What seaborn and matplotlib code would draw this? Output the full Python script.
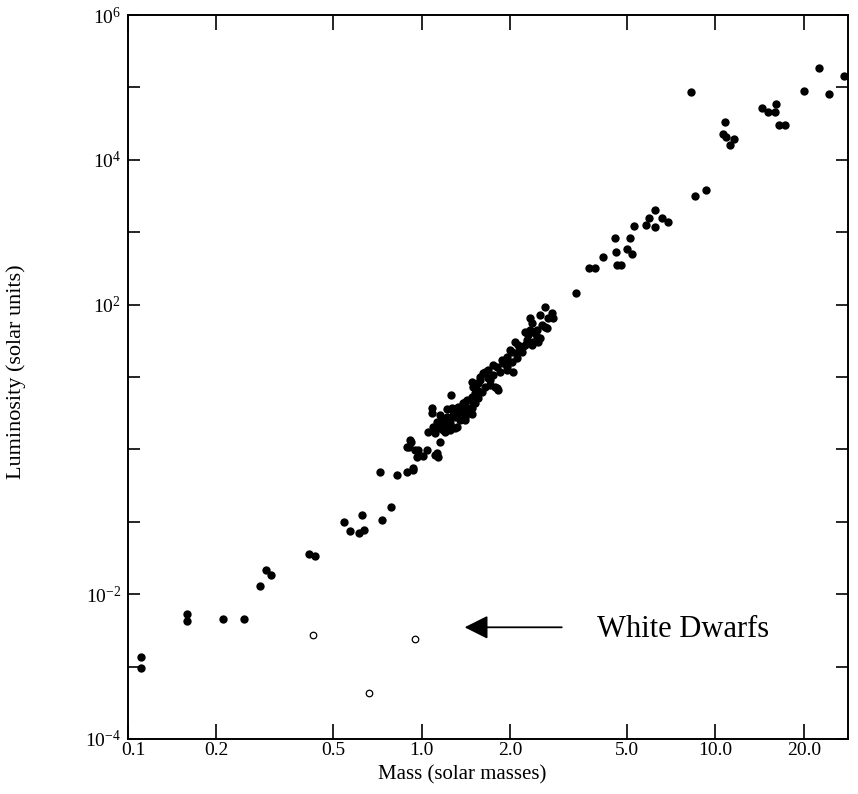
import numpy as np
import seaborn as sns
from matplotlib import pyplot as plt
from matplotlib import transforms
from matplotlib.ticker import FixedLocator, FixedFormatter, NullLocator

# log10 values
ms_log_mass = [
    -0.957, -0.957, -0.798, -0.798, -0.676, -0.606, -0.551, -0.531, -0.513,
    -0.383, -0.362, -0.264, -0.244, -0.213, -0.195, -0.204, -0.134, -0.105,
    -0.142, -0.085, -0.049, -0.031, -0.044, -0.036, -0.017, 0.005, -0.012,
    0.051, 0.062, -0.040, -0.051, -0.023, 0.017, 0.045, 0.055, -0.030,
    0.099, 0.034, 0.036, 0.022, 0.039, 0.051, 0.068, 0.085, 0.108,
    0.096, 0.119, 0.074, 0.096, 0.045, 0.108, 0.125, 0.142, 0.153,
    0.147, 0.159, 0.170, 0.181, 0.193, 0.181, 0.170, 0.199, 0.210,
    0.227, 0.216, 0.233, 0.255, 0.255, 0.278, 0.289, 0.176, 0.187,
    0.204, 0.170, 0.187, 0.261, 0.233, 0.244, 0.272, 0.289, 0.312,
    0.306, 0.318, 0.335, 0.369, 0.369, 0.386, 0.397, 0.420, 0.420,
    0.443, 0.448, 0.358, 0.289, 0.403, 0.375, 0.409, 0.426, 0.352,
    0.363, 0.392, 0.403, 0.380, 0.375, 0.329, 0.340, 0.301, 0.323,
    0.340, 0.306, 0.216, 0.199, 0.193, 0.250, 0.062, 0.083, 0.130,
    0.124, 0.086, 0.137, 0.055,
    0.052, 0.073, 0.090, 0.113, 0.137, 0.158, 0.175, 0.062, 0.103,
    0.147, 0.079, 0.113, 0.147, 0.171, 0.226, 0.267, 0.284, 0.328,
    0.352, 0.393, 0.430, 0.243,
    0.524, 0.570, 0.590, 0.616, 0.658, 0.662, 0.664, 0.679, 0.709,
    0.698, 0.715, 0.724, 0.763, 0.774, 0.794, 0.794, 0.817, 0.840,
    0.932, 0.967, 0.917, 1.034, 1.027, 1.038, 1.064, 1.050, 1.160,
    1.180, 1.206, 1.203, 1.218, 1.237, 1.303, 1.352, 1.388, 1.437,
]
ms_log_lum = [
    -2.872, -3.015, -2.278, -2.374, -2.338, -2.338, -1.883, -1.670, -1.731,
    -1.445, -1.468, -1.007, -1.131, -1.151, -1.109, -0.902, -0.975, -0.791,
    -0.316, -0.349, -0.312, -0.285, 0.037, 0.106, -0.101, -0.091, -0.008,
    -0.054, 0.106, 0.130, 0.037, -0.008, -0.008, -0.077, -0.101, -0.257,
    0.751, 0.568, 0.499, 0.244, 0.314, 0.383, 0.406, 0.452, 0.475,
    0.360, 0.314, 0.268, 0.268, 0.222, 0.544, 0.590, 0.637, 0.682,
    0.452, 0.499, 0.568, 0.637, 0.706, 0.775, 0.935, 0.959, 1.051,
    1.097, 0.866, 0.890, 0.844, 1.142, 1.189, 1.097, 0.866, 0.820,
    0.797, 0.728, 0.728, 0.820, 0.959, 1.166, 1.235, 1.142, 1.073,
    1.349, 1.488, 1.418, 1.811, 1.649, 1.604, 1.488, 1.971, 1.695,
    1.880, 1.811, 1.511, 1.280, 1.856, 1.742, 1.718, 1.673, 1.626,
    1.580, 1.557, 1.535, 1.488, 1.442, 1.442, 1.396, 1.373, 1.258,
    1.349, 1.211, 1.073, 1.004, 0.913, 0.866, 0.337, 0.323, 0.406,
    0.503, 0.558, 0.544, 0.296,
    0.337, 0.378, 0.406, 0.448, 0.517, 0.572, 0.655, 0.475, 0.572,
    0.655, 0.240, 0.296, 0.406, 0.489, 0.986, 1.069, 1.207, 1.345,
    1.442, 1.649, 1.815, 1.028,
    2.156, 2.510, 2.510, 2.657, 2.920, 2.722, 2.547, 2.547, 2.920,
    2.764, 2.699, 3.081, 3.095, 3.192, 3.307, 3.068, 3.192, 3.145,
    3.500, 3.579, 4.932, 4.526, 4.356, 4.319, 4.287, 4.204, 4.715,
    4.664, 4.771, 4.664, 4.477, 4.477, 4.946, 5.268, 4.909, 5.153,
]
wd_log_mass = [-0.370, -0.022, -0.180]
wd_log_lum = [-2.568, -2.623, -3.369]

x_ticks = [0.1, 0.2, 0.5, 1.0, 2.0, 5.0, 10.0, 20.0]
x_labels = ["0.1", "0.2", "0.5", "1.0", "2.0", "5.0", "10.0", "20.0"]
y_ticks = [1e-4, 1e-3, 1e-2, 1e-1, 1e0, 1e1, 1e2, 1e3, 1e4, 1e5, 1e6]
y_labels = [r"$10^{-4}$", "", r"$10^{-2}$", "", "", "", r"$10^{2}$", "",
            r"$10^{4}$", "", r"$10^{6}$"]

sns.set_style("ticks")
plt.rcParams["font.family"] = ["Liberation Serif", "DejaVu Serif"]
plt.rcParams["mathtext.fontset"] = "custom"
plt.rcParams["mathtext.rm"] = "Liberation Serif"
plt.rcParams["mathtext.it"] = "Liberation Serif:italic"
for key in ["text.color", "axes.labelcolor", "xtick.color", "ytick.color",
            "axes.edgecolor"]:
    plt.rcParams[key] = "black"

ms_mass = 10 ** np.array(ms_log_mass)
ms_lum = 10 ** np.array(ms_log_lum)
wd_mass = 10 ** np.array(wd_log_mass)
wd_lum = 10 ** np.array(wd_log_lum)

fig = plt.figure(figsize=(8.58, 7.94), dpi=100)
ax = fig.add_axes([128 / 858, 55 / 794, 720 / 858, 724 / 794])

sns.scatterplot(x=ms_mass, y=ms_lum, ax=ax, color="black", s=36,
                linewidth=0, zorder=3)
sns.scatterplot(x=wd_mass, y=wd_lum, ax=ax, facecolor="white",
                edgecolor="black", s=22, linewidth=0.9, zorder=3)

ax.set_xscale("log")
ax.set_yscale("log")
ax.set_xlim(0.1, 28.3)
ax.set_ylim(1e-4, 1e6)

ax.xaxis.set_major_locator(FixedLocator(x_ticks))
ax.xaxis.set_major_formatter(FixedFormatter(x_labels))
ax.xaxis.set_minor_locator(NullLocator())
ax.yaxis.set_major_locator(FixedLocator(y_ticks))
ax.yaxis.set_major_formatter(FixedFormatter(y_labels))
ax.yaxis.set_minor_locator(NullLocator())

ax.tick_params(axis="x", which="major", direction="in", top=True,
               length=11, width=1.2, labelsize=14, pad=2)
ax.tick_params(axis="y", which="major", direction="in", right=True,
               length=8.5, width=1.2, labelsize=14, pad=5)
for sp in ax.spines.values():
    sp.set_linewidth(1.4)
    sp.set_color("black")

# the "0.1" label sits a little right of the corner, as in the scan
first = ax.xaxis.get_major_ticks()[0].label1
first.set_transform(first.get_transform() +
                    transforms.ScaledTranslation(0.05, 0, fig.dpi_scale_trans))

ax.set_xlabel("Mass (solar masses)", fontsize=15)
ax.set_ylabel("Luminosity (solar units)", fontsize=16)
ax.xaxis.set_label_coords(0.464, -0.036)
ax.yaxis.set_label_coords(-0.142, 0.507)

ax.annotate("", xy=(1.40, 3.49e-3), xytext=(3.0, 3.49e-3),
            arrowprops=dict(arrowstyle="-|>,head_length=0.4,head_width=0.2",
                            color="black", lw=1.3, mutation_scale=36,
                            shrinkA=0, shrinkB=0))
ax.text(3.95, 2.56e-3, "White Dwarfs", fontsize=22, ha="left", va="baseline")

fig.savefig("out.png", dpi=100)
